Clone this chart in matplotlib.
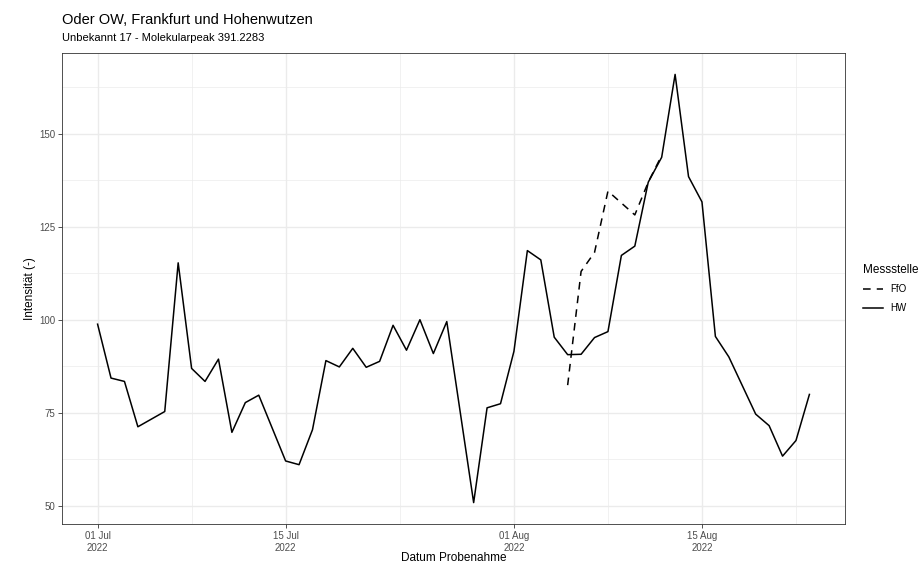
import matplotlib
matplotlib.use("Agg")
import matplotlib.pyplot as plt
import matplotlib.dates as mdates
import numpy as np
import pandas as pd

plt.rcParams['font.family'] = ['Liberation Sans', 'DejaVu Sans']

# Messstelle Hohenwutzen (HW)
hw_dates = [
    "2022-07-01", "2022-07-02", "2022-07-03", "2022-07-04", "2022-07-06",
    "2022-07-07", "2022-07-08", "2022-07-09", "2022-07-10", "2022-07-11",
    "2022-07-12", "2022-07-13", "2022-07-15", "2022-07-16", "2022-07-17",
    "2022-07-18", "2022-07-19", "2022-07-20", "2022-07-21", "2022-07-22",
    "2022-07-23", "2022-07-24", "2022-07-25", "2022-07-26", "2022-07-27",
    "2022-07-29", "2022-07-30", "2022-07-31", "2022-08-01", "2022-08-02",
    "2022-08-03", "2022-08-04", "2022-08-05", "2022-08-06", "2022-08-07",
    "2022-08-08", "2022-08-09", "2022-08-10", "2022-08-11", "2022-08-12",
    "2022-08-13", "2022-08-14", "2022-08-15", "2022-08-16", "2022-08-17",
    "2022-08-19", "2022-08-20", "2022-08-21", "2022-08-22", "2022-08-23",
]
hw_values = [
    98.8, 84.3, 83.4, 71.2, 75.3,
    115.3, 86.9, 83.4, 89.4, 69.7,
    77.7, 79.7, 62.0, 61.0, 70.4,
    89.0, 87.3, 92.3, 87.2, 88.8,
    98.5, 91.8, 100.0, 90.9, 99.5,
    50.8, 76.3, 77.4, 91.5, 118.6,
    116.1, 95.3, 90.6, 90.7, 95.2,
    96.8, 117.3, 119.8, 137.0, 143.7,
    166.0, 138.5, 131.7, 95.5, 90.0,
    74.6, 71.5, 63.3, 67.5, 79.9,
]

# Messstelle Frankfurt (FfO)
ffo_dates = [
    "2022-08-05", "2022-08-06", "2022-08-07", "2022-08-08",
    "2022-08-10", "2022-08-11", "2022-08-12",
]
ffo_values = [82.4, 113.0, 118.1, 134.6, 128.2, 137.0, 144.2]

x_breaks = ["2022-07-01", "2022-07-15", "2022-08-01", "2022-08-15"]
x_labels = ["01 Jul\n2022", "15 Jul\n2022", "01 Aug\n2022", "15 Aug\n2022"]
y_breaks = [50, 75, 100, 125, 150]

title = "Oder OW, Frankfurt und Hohenwutzen"
subtitle = "Unbekannt 17 - Molekularpeak 391.2283"

hw_x = pd.to_datetime(hw_dates)
ffo_x = pd.to_datetime(ffo_dates)

fig = plt.figure(figsize=(9.2, 5.65), dpi=100)
ax = fig.add_axes([62 / 920, 1 - 524 / 565, 783 / 920, 471 / 565])

# ggplot-style 5 % expansion of the data range
all_x = np.concatenate([mdates.date2num(hw_x), mdates.date2num(ffo_x)])
all_y = np.concatenate([hw_values, ffo_values])
xr = all_x.max() - all_x.min()
yr = all_y.max() - all_y.min()
xlim = (all_x.min() - 0.05 * xr, all_x.max() + 0.05 * xr)
ylim = (all_y.min() - 0.05 * yr, all_y.max() + 0.05 * yr)

# major and minor (midpoint) grid lines
xb = mdates.date2num(pd.to_datetime(x_breaks))
step_x = np.diff(xb)
x_minor = list((xb[:-1] + xb[1:]) / 2) + [xb[-1] + step_x[-1] / 2]
x_minor = [v for v in x_minor if xlim[0] <= v <= xlim[1]]
yb = np.array(y_breaks, dtype=float)
y_minor = list((yb[:-1] + yb[1:]) / 2) + [yb[-1] + 12.5]
y_minor = [v for v in y_minor if ylim[0] <= v <= ylim[1]]

grid_col = "#EBEBEB"
for v in x_minor:
    ax.axvline(v, color=grid_col, lw=0.5, zorder=0)
for v in y_minor:
    ax.axhline(v, color=grid_col, lw=0.5, zorder=0)
for v in xb:
    ax.axvline(v, color=grid_col, lw=1.0, zorder=0)
for v in y_breaks:
    ax.axhline(v, color=grid_col, lw=1.0, zorder=0)

ax.plot(ffo_x, ffo_values, color="black", lw=1.1, linestyle=(0, (5, 4)),
        label="FfO", zorder=3)
ax.plot(hw_x, hw_values, color="black", lw=1.1, label="HW", zorder=3)

ax.set_xlim(*xlim)
ax.set_ylim(*ylim)

ax.set_xticks(xb)
ax.set_xticklabels(x_labels)
ax.set_yticks(y_breaks)
ax.tick_params(axis="both", colors="#333333", labelcolor="#4D4D4D",
               labelsize=7, length=3, width=0.6, pad=2)
for s in ax.spines.values():
    s.set_color("#333333")
    s.set_linewidth(0.6)

ax.set_xlabel("Datum Probenahme", fontsize=8.5, va="center")
ax.xaxis.set_label_coords(0.5, -(558 - 524) / 471)
ax.set_ylabel("Intensität (-)", fontsize=8.5, va="center")
ax.yaxis.set_label_coords(-(62 - 30) / 783, 0.5)

fig.text(62 / 920, 1 - 20 / 565, title, fontsize=10.5, va="center", ha="left")
fig.text(62 / 920, 1 - 38 / 565, subtitle, fontsize=8, va="center", ha="left")

leg = ax.legend(loc="center left", bbox_to_anchor=(1.012, 0.5), frameon=False,
                title="Messstelle", fontsize=7, title_fontsize=8.5,
                handlelength=2.0, handletextpad=0.8, labelspacing=0.9,
                alignment="left")

fig.savefig("out.png", dpi=100)
